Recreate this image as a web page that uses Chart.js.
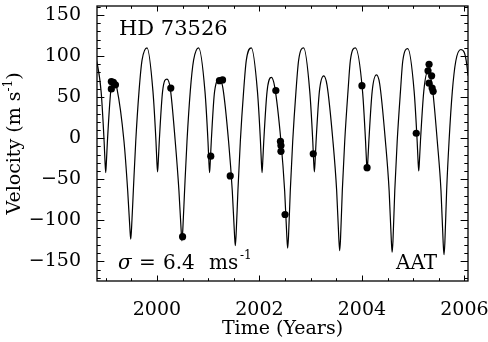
<!DOCTYPE html>
<html>
<head>
<meta charset="utf-8">
<script src="https://cdn.jsdelivr.net/npm/chart.js@4.4.1/dist/chart.umd.min.js"></script>
<style>
  html, body { margin: 0; padding: 0; background: #fff; }
</style>
</head>
<body>
<canvas id="rvChart" width="488" height="342"></canvas>
<script>
// orbit fit curve (year, m/s)
const curveYears = [
    1998.770, 1998.910, 1998.969, 1998.986, 1999.000, 1999.014, 1999.033, 1999.098, 1999.154, 1999.218, 1999.357, 1999.429, 1999.472, 1999.488, 1999.504, 1999.539, 1999.586, 1999.650, 1999.709,
    1999.807, 1999.922, 1999.981, 1999.998, 2000.012, 2000.026, 2000.045, 2000.110, 2000.195, 2000.259, 2000.357, 2000.429, 2000.472, 2000.488, 2000.504, 2000.539, 2000.586, 2000.650, 2000.715,
    2000.813, 2000.937, 2000.996, 2001.013, 2001.027, 2001.041, 2001.060, 2001.125, 2001.223, 2001.287, 2001.398, 2001.470, 2001.513, 2001.529, 2001.545, 2001.580, 2001.627, 2001.691, 2001.744,
    2001.842, 2001.961, 2002.020, 2002.037, 2002.051, 2002.065, 2002.084, 2002.149, 2002.232, 2002.296, 2002.420, 2002.492, 2002.535, 2002.551, 2002.567, 2002.602, 2002.649, 2002.713, 2002.765,
    2002.863, 2002.982, 2003.041, 2003.058, 2003.072, 2003.086, 2003.105, 2003.170, 2003.254, 2003.318, 2003.435, 2003.507, 2003.550, 2003.566, 2003.582, 2003.617, 2003.664, 2003.728, 2003.775,
    2003.873, 2004.012, 2004.071, 2004.088, 2004.102, 2004.116, 2004.135, 2004.200, 2004.283, 2004.347, 2004.459, 2004.531, 2004.574, 2004.590, 2004.606, 2004.641, 2004.688, 2004.752, 2004.797,
    2004.895, 2005.019, 2005.078, 2005.095, 2005.109, 2005.123, 2005.142, 2005.207, 2005.285, 2005.350, 2005.392, 2005.471, 2005.543, 2005.586, 2005.602, 2005.618, 2005.653, 2005.700, 2005.764, 2005.832,
    2005.930, 2006.070, 2006.125, 2006.160
];
const curveVel = [
    110, 57, -4, -28, -42, -28, -4, 57, 71, 61, -4, -64, -110, -123, -110, -64, -4, 57, 95,
    110, 57, -4, -28, -41, -28, -4, 57, 72, 61, -4, -64, -112, -125, -112, -64, -4, 57, 95,
    110, 57, -4, -28, -42, -28, -4, 57, 72, 61, -4, -64, -117, -131, -117, -64, -4, 57, 95,
    110, 57, -4, -28, -42, -28, -4, 57, 74, 63, -4, -64, -120, -134, -120, -64, -4, 57, 95,
    110, 57, -4, -28, -41, -28, -4, 57, 76, 65, -4, -64, -123, -137, -123, -64, -4, 57, 95,
    110, 57, -4, -27, -40, -27, -4, 57, 77, 66, -4, -64, -125, -139, -125, -64, -4, 57, 94,
    109, 57, -4, -27, -40, -27, -4, 57, 81, 71, 52, -4, -64, -128, -142, -128, -64, -4, 57, 94,
    108, 76, -4, -40
];

// AAT measurements
const obsYears = [1999.11, 1999.15, 1999.19, 1999.11, 2000.27, 2000.50, 2001.05, 2001.22, 2001.28, 2001.43,
    2002.32, 2002.41, 2002.42, 2002.42, 2002.50, 2003.05, 2004.00, 2004.10, 2005.06,
    2005.31, 2005.29, 2005.36, 2005.31, 2005.37, 2005.39];
const obsVel = [69, 68, 65, 60, 61, -120, -22, 70, 71, -46,
    58, -4, -9, -16, -93, -19, 64, -36, 6,
    90, 82, 76, 67, 61, 57];

const yearTicks = [2000, 2002, 2004, 2006];
const velTicks = [-150, -100, -50, 0, 50, 100, 150];

const FONT = '"DejaVu Serif", "Liberation Serif", serif';

const curve = curveYears.map((x, i) => ({ x: x, y: curveVel[i] }));
const obs = obsYears.map((x, i) => ({ x: x, y: obsVel[i] }));

// IDL style frame: inward ticks on all four sides, plus labels
const frame = {
    id: 'frame',
    afterDraw(chart) {
        const { ctx, chartArea: a, scales: { x, y } } = chart;
        ctx.save();
        ctx.strokeStyle = '#000';
        ctx.lineWidth = 1.3;
        ctx.strokeRect(a.left, a.top, a.right - a.left, a.bottom - a.top);

        ctx.lineWidth = 1;
        ctx.beginPath();
        for (let v = 1999; v <= 2006.01; v += 0.5) {
            const px = Math.round(x.getPixelForValue(v)) + 0.5;
            if (px < a.left || px > a.right) continue;
            const len = yearTicks.includes(v) ? 5.5 : 2.8;
            ctx.moveTo(px, a.bottom); ctx.lineTo(px, a.bottom - len);
            ctx.moveTo(px, a.top); ctx.lineTo(px, a.top + len);
        }
        for (let v = -170; v <= 160; v += 10) {
            const py = Math.round(y.getPixelForValue(v)) + 0.5;
            const len = velTicks.includes(v) ? 7.4 : 3.7;
            ctx.moveTo(a.left, py); ctx.lineTo(a.left + len, py);
            ctx.moveTo(a.right, py); ctx.lineTo(a.right - len, py);
        }
        ctx.stroke();

        ctx.fillStyle = '#000';
        ctx.textBaseline = 'alphabetic';
        ctx.font = '21px ' + FONT;
        ctx.fillText('HD 73526', a.left + 22, a.top + 29);

        ctx.font = 'italic 20px ' + FONT;
        ctx.fillText('σ', a.left + 21, 269);
        ctx.font = '20px ' + FONT;
        ctx.fillText('=', a.left + 42, 269);
        ctx.fillText('6.4', a.left + 66, 269);
        ctx.fillText('ms', a.left + 112, 269);
        ctx.font = '12px ' + FONT;
        ctx.fillText('-1', a.left + 143, 259);
        ctx.font = '20px ' + FONT;
        ctx.fillText('AAT', a.left + 299, 269);

        // y title with superscript
        ctx.translate(15, (a.top + a.bottom) / 2);
        ctx.rotate(-Math.PI / 2);
        ctx.textBaseline = 'middle';
        const big = '19px ' + FONT, small = '12px ' + FONT;
        ctx.font = big;
        const w1 = ctx.measureText('Velocity (m s').width;
        const w3 = ctx.measureText(')').width;
        ctx.font = small;
        const w2 = ctx.measureText('-1').width;
        let xs = -(w1 + w2 + w3) / 2;
        ctx.font = big;
        ctx.fillText('Velocity (m s', xs, 0);
        ctx.font = small;
        ctx.fillText('-1', xs + w1, -6);
        ctx.font = big;
        ctx.fillText(')', xs + w1 + w2, 0);
        ctx.restore();
    }
};

const ctx = document.getElementById('rvChart').getContext('2d');
new Chart(ctx, {
    type: 'scatter',
    data: {
        datasets: [{
            data: curve,
            showLine: true,
            pointRadius: 0,
            borderColor: '#000',
            borderWidth: 1.2,
            cubicInterpolationMode: 'monotone'
        }, {
            data: obs,
            pointRadius: 3.6,
            backgroundColor: '#000',
            borderWidth: 0
        }]
    },
    options: {
        responsive: false,
        animation: false,
        layout: { padding: { top: 6, right: 20, left: 0, bottom: 0 } },
        plugins: { legend: { display: false }, tooltip: { enabled: false } },
        scales: {
            x: {
                type: 'linear',
                min: 1998.83,
                max: 2006.07,
                afterBuildTicks: s => { s.ticks = yearTicks.map(v => ({ value: v })); },
                afterFit: s => { s.height = 61; s.paddingLeft = 0; s.paddingRight = 0; },
                grid: { display: false },
                border: { display: false },
                ticks: {
                    callback: v => String(v),
                    color: '#000',
                    font: { family: FONT, size: 19 },
                    padding: 10,
                    maxRotation: 0,
                    autoSkip: false
                },
                title: {
                    display: true,
                    text: 'Time (Years)',
                    color: '#000',
                    font: { family: FONT, size: 19 },
                    padding: { top: 0, bottom: 2 }
                }
            },
            y: {
                min: -174,
                max: 161,
                afterBuildTicks: s => { s.ticks = velTicks.map(v => ({ value: v })); },
                afterFit: s => { s.width = 97; s.paddingTop = 0; s.paddingBottom = 0; },
                grid: { display: false },
                border: { display: false },
                ticks: {
                    callback: v => String(v).replace('-', '\u2212'),
                    color: '#000',
                    font: { family: FONT, size: 19 },
                    padding: 8,
                    autoSkip: false
                }
            }
        }
    },
    plugins: [frame]
});
</script>
</body>
</html>
